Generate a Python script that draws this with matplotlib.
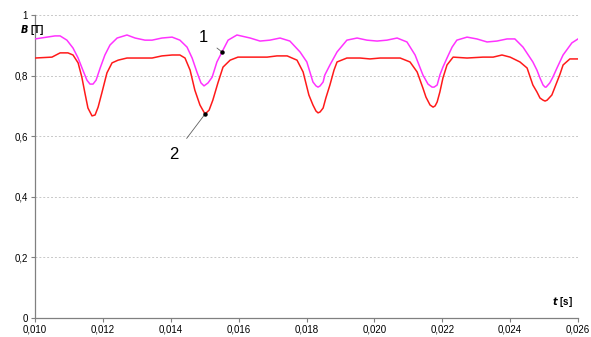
import numpy as np
import matplotlib
matplotlib.use("Agg")
import matplotlib.pyplot as plt
from matplotlib.ticker import FuncFormatter

plt.rcParams["font.family"] = ["Liberation Sans", "DejaVu Sans"]

# curve 1 (magenta)
t1 = [0.01000, 0.01059, 0.01074, 0.01094, 0.01112, 0.01127, 0.01141, 0.01153,
      0.01162, 0.01171, 0.01180, 0.01192, 0.01206, 0.01221, 0.01242, 0.01271,
      0.01295, 0.01324, 0.01345, 0.01374, 0.01404, 0.01427, 0.01448, 0.01463,
      0.01477, 0.01489, 0.01498, 0.01510, 0.01522, 0.01536, 0.01551, 0.01569,
      0.01595, 0.01634, 0.01663, 0.01692, 0.01722, 0.01751, 0.01781, 0.01801,
      0.01810, 0.01819, 0.01828, 0.01834, 0.01840, 0.01849, 0.01854, 0.01869,
      0.01890, 0.01919, 0.01949, 0.01978, 0.02008, 0.02037, 0.02067, 0.02096,
      0.02120, 0.02143, 0.02158, 0.02170, 0.02176, 0.02185, 0.02193, 0.02202,
      0.02214, 0.02229, 0.02243, 0.02273, 0.02302, 0.02332, 0.02361, 0.02391,
      0.02414, 0.02438, 0.02467, 0.02479, 0.02488, 0.02497, 0.02503, 0.02506,
      0.02517, 0.02526, 0.02538, 0.02556, 0.02582, 0.02600]
b1 = [0.921, 0.931, 0.931, 0.917, 0.891, 0.858, 0.818, 0.785,
      0.772, 0.772, 0.785, 0.825, 0.868, 0.901, 0.924, 0.934,
      0.924, 0.917, 0.917, 0.924, 0.927, 0.917, 0.894, 0.858,
      0.812, 0.776, 0.766, 0.776, 0.795, 0.845, 0.878, 0.917,
      0.934, 0.924, 0.914, 0.917, 0.924, 0.914, 0.878, 0.845,
      0.812, 0.779, 0.766, 0.762, 0.766, 0.779, 0.802, 0.835,
      0.878, 0.917, 0.924, 0.917, 0.914, 0.917, 0.924, 0.911,
      0.868, 0.802, 0.772, 0.762, 0.762, 0.769, 0.802, 0.828,
      0.858, 0.894, 0.917, 0.927, 0.921, 0.911, 0.914, 0.921,
      0.921, 0.894, 0.845, 0.818, 0.792, 0.769, 0.762, 0.762,
      0.776, 0.795, 0.825, 0.868, 0.908, 0.921]

# curve 2 (red)
t2 = [0.01000, 0.01050, 0.01074, 0.01097, 0.01112, 0.01127, 0.01138, 0.01147,
      0.01156, 0.01168, 0.01177, 0.01186, 0.01197, 0.01212, 0.01227, 0.01245,
      0.01271, 0.01315, 0.01345, 0.01374, 0.01404, 0.01427, 0.01442, 0.01457,
      0.01471, 0.01486, 0.01501, 0.01513, 0.01524, 0.01539, 0.01554, 0.01575,
      0.01598, 0.01642, 0.01684, 0.01713, 0.01743, 0.01772, 0.01790, 0.01807,
      0.01819, 0.01828, 0.01834, 0.01840, 0.01849, 0.01857, 0.01869, 0.01881,
      0.01890, 0.01919, 0.01958, 0.01987, 0.02017, 0.02046, 0.02076, 0.02105,
      0.02126, 0.02143, 0.02152, 0.02164, 0.02173, 0.02179, 0.02185, 0.02193,
      0.02202, 0.02214, 0.02232, 0.02273, 0.02320, 0.02350, 0.02376, 0.02400,
      0.02429, 0.02450, 0.02467, 0.02479, 0.02488, 0.02497, 0.02503, 0.02509,
      0.02523, 0.02538, 0.02547, 0.02556, 0.02576, 0.02600]
b2 = [0.858, 0.861, 0.875, 0.875, 0.868, 0.842, 0.795, 0.743,
      0.693, 0.667, 0.670, 0.696, 0.743, 0.809, 0.842, 0.851,
      0.858, 0.858, 0.858, 0.865, 0.868, 0.868, 0.858, 0.818,
      0.752, 0.703, 0.673, 0.686, 0.719, 0.776, 0.828, 0.851,
      0.861, 0.861, 0.861, 0.865, 0.865, 0.851, 0.812, 0.736,
      0.703, 0.683, 0.677, 0.680, 0.693, 0.726, 0.769, 0.818,
      0.845, 0.858, 0.858, 0.855, 0.858, 0.858, 0.858, 0.845,
      0.812, 0.759, 0.729, 0.703, 0.696, 0.700, 0.713, 0.746,
      0.792, 0.835, 0.861, 0.858, 0.861, 0.861, 0.868, 0.861,
      0.845, 0.825, 0.769, 0.746, 0.726, 0.719, 0.716, 0.719,
      0.736, 0.779, 0.805, 0.835, 0.855, 0.855]

x_ticks = [0.010, 0.012, 0.014, 0.016, 0.018, 0.020, 0.022, 0.024, 0.026]
y_ticks = [0, 0.2, 0.4, 0.6, 0.8, 1.0]

fig = plt.figure(figsize=(5.91, 3.37), dpi=100)
ax = fig.add_axes([35 / 591, 19 / 337, 543 / 591, 303 / 337])

ax.plot(t1, b1, color="#FF33FF", lw=1.1, solid_joinstyle="round", zorder=3)
ax.plot(t2, b2, color="#FF1A1A", lw=1.1, solid_joinstyle="round", zorder=3)

ax.set_xlim(0.010, 0.026)
ax.set_ylim(0, 1)
ax.set_xticks(x_ticks)
ax.set_yticks(y_ticks)
ax.xaxis.set_major_formatter(FuncFormatter(lambda v, p: f"{v:.3f}".replace(".", ",")))
ax.yaxis.set_major_formatter(FuncFormatter(lambda v, p: f"{v:g}".replace(".", ",")))
ax.tick_params(labelsize=7, length=3, width=0.8, color="#808080", pad=2)

ax.grid(axis="y", linestyle=(0, (2, 2)), color="#C8C8C8", lw=0.7)
for s in ("top", "right"):
    ax.spines[s].set_visible(False)
for s in ("left", "bottom"):
    ax.spines[s].set_color("#808080")
    ax.spines[s].set_linewidth(0.9)

# curve labels with leader lines
i1 = t1.index(0.01551)
i2 = t2.index(0.01501)
ax.annotate("1", xy=(t1[i1], b1[i1]), xytext=(0.01495, 0.927),
            fontsize=12, ha="center", va="center",
            arrowprops=dict(arrowstyle="-", color="#606060", lw=0.6, shrinkA=6, shrinkB=0))
ax.annotate("2", xy=(t2[i2], b2[i2]), xytext=(0.01410, 0.538),
            fontsize=12, ha="center", va="center",
            arrowprops=dict(arrowstyle="-", color="#606060", lw=0.6, shrinkA=6, shrinkB=0))
ax.plot([t1[i1], t2[i2]], [b1[i1], b2[i2]], "o", color="black", ms=2.2, zorder=4)

fig.text(20 / 591, 1 - 30 / 337, "$\\bfit{B}$ [T]", fontsize=7, fontweight="bold", va="center")
fig.text(573 / 591, 1 - 302 / 337, "$\\bfit{t}$ [s]", fontsize=7, fontweight="bold",
         va="center", ha="right")

fig.savefig("out.png", dpi=100)
